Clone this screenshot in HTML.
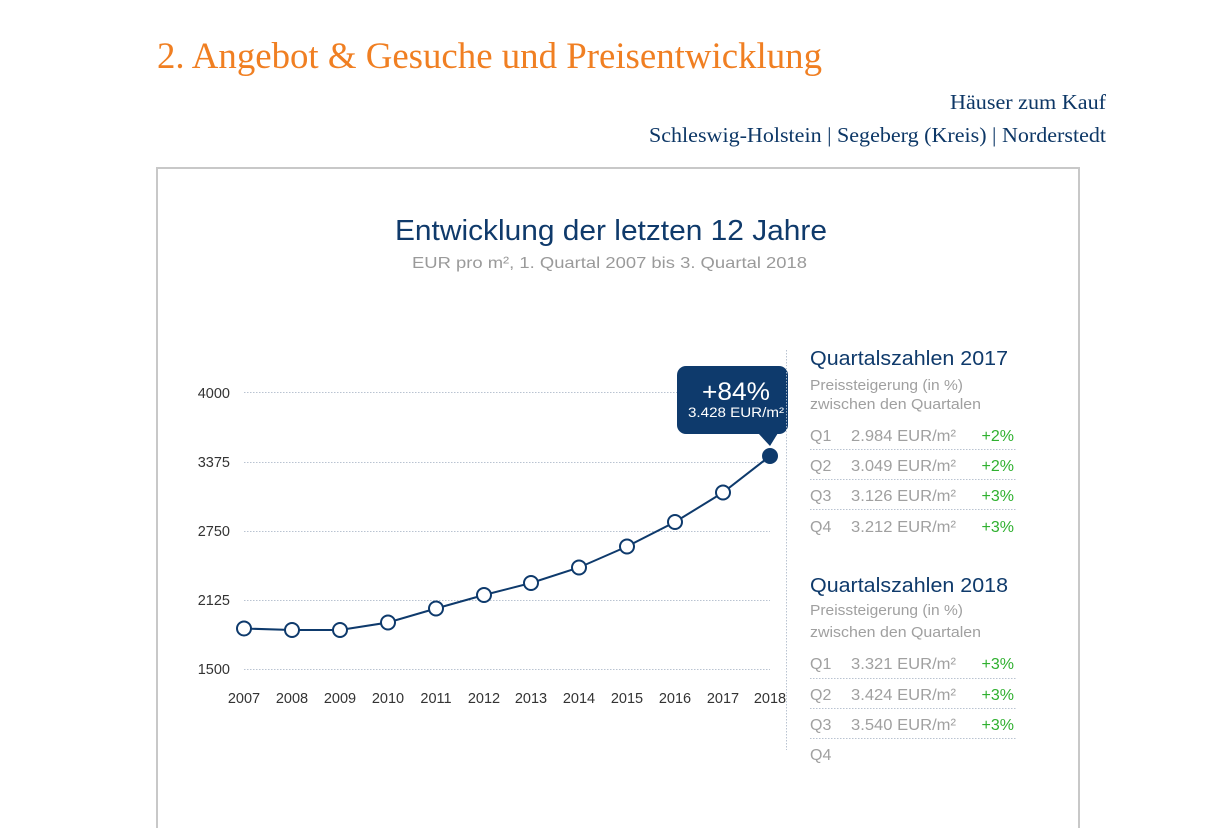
<!DOCTYPE html>
<html>
<head>
<meta charset="utf-8">
<style>
html,body{margin:0;padding:0;background:#fff;}
body{width:1212px;height:828px;overflow:hidden;}
svg{display:block;}
</style>
</head>
<body>
<svg width="1212" height="828" viewBox="0 0 1212 828" xmlns="http://www.w3.org/2000/svg">
  <!-- Header -->
  <text x="157" y="68" font-family="Liberation Serif, serif" font-size="36.5" fill="#f07f22" textLength="665" lengthAdjust="spacingAndGlyphs">2. Angebot &amp; Gesuche und Preisentwicklung</text>
  <text x="1106" y="109" text-anchor="end" font-family="Liberation Serif, serif" font-size="21" fill="#0d3766" textLength="156" lengthAdjust="spacingAndGlyphs">Häuser zum Kauf</text>
  <text x="1106" y="142" text-anchor="end" font-family="Liberation Serif, serif" font-size="21" fill="#0d3766" textLength="457" lengthAdjust="spacingAndGlyphs">Schleswig-Holstein | Segeberg (Kreis) | Norderstedt</text>

  <!-- Frame -->
  <path d="M157 840 V168 H1079 V840" fill="none" stroke="#c8c8c8" stroke-width="2"/>

  <!-- Chart title -->
  <text x="395" y="240" font-family="Liberation Sans, sans-serif" font-size="29" fill="#0f3a6b" textLength="432" lengthAdjust="spacingAndGlyphs">Entwicklung der letzten 12 Jahre</text>
  <text x="412" y="268" font-family="Liberation Sans, sans-serif" font-size="16" fill="#9a9a9a" textLength="395" lengthAdjust="spacingAndGlyphs">EUR pro m², 1. Quartal 2007 bis 3. Quartal 2018</text>

  <!-- Gridlines -->
  <g stroke="#b9c3d1" stroke-width="1" stroke-dasharray="1.5 1.5">
    <line x1="244" y1="392.5" x2="770" y2="392.5"/>
    <line x1="244" y1="462.5" x2="770" y2="462.5"/>
    <line x1="244" y1="531.5" x2="770" y2="531.5"/>
    <line x1="244" y1="600.5" x2="770" y2="600.5"/>
    <line x1="244" y1="669.5" x2="770" y2="669.5"/>
  </g>
  <!-- Y labels -->
  <g font-family="Liberation Sans, sans-serif" font-size="14.5" fill="#333" text-anchor="end">
    <text x="230" y="398">4000</text>
    <text x="230" y="467">3375</text>
    <text x="230" y="536">2750</text>
    <text x="230" y="605">2125</text>
    <text x="230" y="674">1500</text>
  </g>
  <!-- X labels -->
  <g font-family="Liberation Sans, sans-serif" font-size="14.5" fill="#333" text-anchor="middle">
    <text x="244" y="703">2007</text>
    <text x="292" y="703">2008</text>
    <text x="340" y="703">2009</text>
    <text x="388" y="703">2010</text>
    <text x="436" y="703">2011</text>
    <text x="484" y="703">2012</text>
    <text x="531" y="703">2013</text>
    <text x="579" y="703">2014</text>
    <text x="627" y="703">2015</text>
    <text x="675" y="703">2016</text>
    <text x="723" y="703">2017</text>
    <text x="770" y="703">2018</text>
  </g>

  <!-- Vertical dotted separator -->
  <line x1="786.5" y1="350" x2="786.5" y2="750" stroke="#b9c3d1" stroke-width="1" stroke-dasharray="1.5 1.5"/>

  <!-- Series line -->
  <polyline fill="none" stroke="#0e3a6c" stroke-width="2" points="244,628.5 292,630 340,630 388,622.5 436,608.5 484,595 531,583 579,567.5 627,546.5 675,522 723,492.5 770,456"/>
  <g fill="#fff" stroke="#0e3a6c" stroke-width="2">
    <circle cx="244" cy="628.5" r="7"/>
    <circle cx="292" cy="630" r="7"/>
    <circle cx="340" cy="630" r="7"/>
    <circle cx="388" cy="622.5" r="7"/>
    <circle cx="436" cy="608.5" r="7"/>
    <circle cx="484" cy="595" r="7"/>
    <circle cx="531" cy="583" r="7"/>
    <circle cx="579" cy="567.5" r="7"/>
    <circle cx="627" cy="546.5" r="7"/>
    <circle cx="675" cy="522" r="7"/>
    <circle cx="723" cy="492.5" r="7"/>
  </g>
  <circle cx="770" cy="456" r="8" fill="#0e3a6c"/>

  <!-- Tooltip -->
  <rect x="677" y="366" width="111" height="68" rx="9" ry="9" fill="#0e3a6c"/>
  <polygon points="758,433 778,433 770,446" fill="#0e3a6c"/>
  <line x1="786.5" y1="366" x2="786.5" y2="434" stroke="#ffffff" stroke-opacity="0.6" stroke-width="1" stroke-dasharray="1.5 1.5"/>
  <text x="736" y="400" text-anchor="middle" font-family="Liberation Sans, sans-serif" font-size="25" fill="#fff" textLength="68" lengthAdjust="spacingAndGlyphs">+84%</text>
  <text x="736" y="417" text-anchor="middle" font-family="Liberation Sans, sans-serif" font-size="13.5" fill="#fff" textLength="96" lengthAdjust="spacingAndGlyphs">3.428 EUR/m²</text>

  <!-- Right panel 2017 -->
  <g font-family="Liberation Sans, sans-serif">
    <text x="810" y="365" font-size="20.5" fill="#0f3a6b" textLength="198" lengthAdjust="spacingAndGlyphs">Quartalszahlen 2017</text>
    <text x="810" y="390" font-size="14.5" fill="#a0a0a0" textLength="153" lengthAdjust="spacingAndGlyphs">Preissteigerung (in %)</text>
    <text x="810" y="409" font-size="14.5" fill="#a0a0a0" textLength="171" lengthAdjust="spacingAndGlyphs">zwischen den Quartalen</text>

    <g font-size="16" fill="#a0a0a0">
      <text x="810" y="441">Q1</text>
      <text x="851" y="441" textLength="105" lengthAdjust="spacingAndGlyphs">2.984 EUR/m²</text>
      <text x="810" y="471">Q2</text>
      <text x="851" y="471" textLength="105" lengthAdjust="spacingAndGlyphs">3.049 EUR/m²</text>
      <text x="810" y="501">Q3</text>
      <text x="851" y="501" textLength="105" lengthAdjust="spacingAndGlyphs">3.126 EUR/m²</text>
      <text x="810" y="532">Q4</text>
      <text x="851" y="532" textLength="105" lengthAdjust="spacingAndGlyphs">3.212 EUR/m²</text>
    </g>
    <g font-size="16" fill="#2fb02f" text-anchor="end">
      <text x="1014" y="441">+2%</text>
      <text x="1014" y="471">+2%</text>
      <text x="1014" y="501">+3%</text>
      <text x="1014" y="532">+3%</text>
    </g>
    <g stroke="#b9c3d1" stroke-width="1" stroke-dasharray="1.5 1.5">
      <line x1="810" y1="449.5" x2="1016" y2="449.5"/>
      <line x1="810" y1="479.5" x2="1016" y2="479.5"/>
      <line x1="810" y1="509.5" x2="1016" y2="509.5"/>
    </g>

    <!-- Right panel 2018 -->
    <text x="810" y="592" font-size="20.5" fill="#0f3a6b" textLength="198" lengthAdjust="spacingAndGlyphs">Quartalszahlen 2018</text>
    <text x="810" y="615" font-size="14.5" fill="#a0a0a0" textLength="153" lengthAdjust="spacingAndGlyphs">Preissteigerung (in %)</text>
    <text x="810" y="637" font-size="14.5" fill="#a0a0a0" textLength="171" lengthAdjust="spacingAndGlyphs">zwischen den Quartalen</text>

    <g font-size="16" fill="#a0a0a0">
      <text x="810" y="669">Q1</text>
      <text x="851" y="669" textLength="105" lengthAdjust="spacingAndGlyphs">3.321 EUR/m²</text>
      <text x="810" y="700">Q2</text>
      <text x="851" y="700" textLength="105" lengthAdjust="spacingAndGlyphs">3.424 EUR/m²</text>
      <text x="810" y="730">Q3</text>
      <text x="851" y="730" textLength="105" lengthAdjust="spacingAndGlyphs">3.540 EUR/m²</text>
      <text x="810" y="760">Q4</text>
    </g>
    <g font-size="16" fill="#2fb02f" text-anchor="end">
      <text x="1014" y="669">+3%</text>
      <text x="1014" y="700">+3%</text>
      <text x="1014" y="730">+3%</text>
    </g>
    <g stroke="#b9c3d1" stroke-width="1" stroke-dasharray="1.5 1.5">
      <line x1="810" y1="678.5" x2="1016" y2="678.5"/>
      <line x1="810" y1="708.5" x2="1016" y2="708.5"/>
      <line x1="810" y1="738.5" x2="1016" y2="738.5"/>
    </g>
  </g>
</svg>
</body>
</html>
